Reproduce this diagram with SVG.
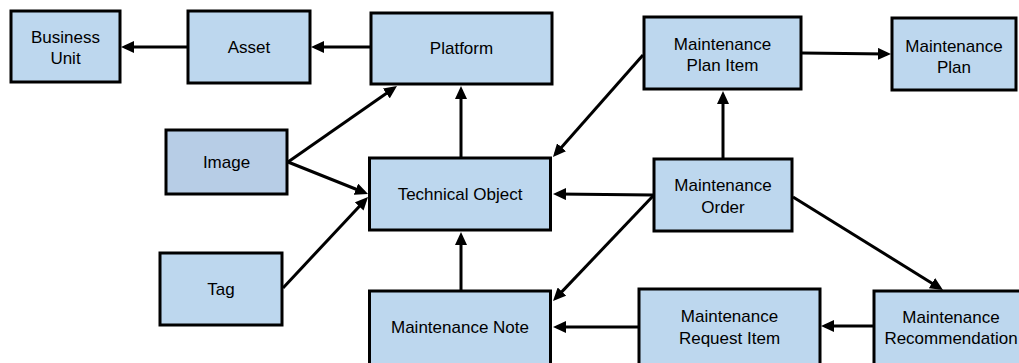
<svg xmlns="http://www.w3.org/2000/svg" width="1019" height="363" viewBox="0 0 1019 363">
<style>
.box{fill:#bdd7ee;stroke:#000;stroke-width:3}
.img{fill:#b7cde6}
text{font-family:"Liberation Sans",Arial,sans-serif;font-size:17px;fill:#000;text-anchor:middle}
.c line{stroke:#000;stroke-width:3;marker-end:url(#ah)}
</style>
<defs>
<marker id="ah" markerUnits="userSpaceOnUse" viewBox="0 0 13 12" markerWidth="13" markerHeight="12" refX="9" refY="6" orient="auto">
<path d="M0,0 L13,6 L0,12 z" fill="#000"/>
</marker>
</defs>
<g class="c" id="connectors">
<line x1="187" y1="47" x2="125" y2="47"/>
<line x1="370" y1="47" x2="315" y2="47"/>
<line x1="288" y1="162" x2="393.7" y2="88.3"/>
<line x1="288" y1="162" x2="364.3" y2="192.5"/>
<line x1="283" y1="288" x2="365.3" y2="199.9"/>
<line x1="461" y1="157" x2="461" y2="90"/>
<line x1="461" y1="290" x2="461" y2="236"/>
<line x1="643" y1="55" x2="555.6" y2="154"/>
<line x1="653" y1="195" x2="557" y2="194"/>
<line x1="653" y1="196" x2="555.8" y2="298.1"/>
<line x1="638" y1="327" x2="557" y2="327"/>
<line x1="873" y1="326" x2="825" y2="326"/>
<line x1="793" y1="197" x2="939.6" y2="287.9"/>
<line x1="723" y1="158" x2="723" y2="95"/>
<line x1="802" y1="53" x2="887" y2="54"/>
</g>
<g id="business-unit"><rect class="box" x="11" y="11" width="109" height="71"/><text x="65.5" y="43">Business</text><text x="65.5" y="64">Unit</text></g>
<g id="asset"><rect class="box" x="188" y="11" width="122" height="72"/><text x="249" y="53">Asset</text></g>
<g id="platform"><rect class="box" x="371" y="13" width="181" height="71"/><text x="461.5" y="54">Platform</text></g>
<g id="maintenance-plan-item"><rect class="box" x="644" y="17" width="157" height="72"/><text x="722.5" y="50">Maintenance</text><text x="722.5" y="71">Plan Item</text></g>
<g id="maintenance-plan"><rect class="box" x="892" y="18" width="124" height="72"/><text x="954" y="52">Maintenance</text><text x="954" y="73">Plan</text></g>
<g id="image"><rect class="box img" x="166" y="130" width="121" height="64"/><text x="226.5" y="168">Image</text></g>
<g id="technical-object"><rect class="box" x="369.5" y="158" width="181" height="72"/><text x="460" y="200">Technical Object</text></g>
<g id="maintenance-order"><rect class="box" x="654" y="159" width="138" height="72"/><text x="723" y="191">Maintenance</text><text x="723" y="213">Order</text></g>
<g id="tag"><rect class="box" x="160" y="253" width="122" height="72"/><text x="221" y="295">Tag</text></g>
<g id="maintenance-note"><rect class="box" x="369.5" y="291" width="181" height="76"/><text x="460" y="333">Maintenance Note</text></g>
<g id="maintenance-request-item"><rect class="box" x="639" y="289" width="181" height="78"/><text x="729.5" y="322">Maintenance</text><text x="729.5" y="344">Request Item</text></g>
<g id="maintenance-recommendation"><rect class="box" x="874" y="291" width="160" height="76"/><text x="951" y="323">Maintenance</text><text x="951" y="344">Recommendation</text></g>
</svg>
